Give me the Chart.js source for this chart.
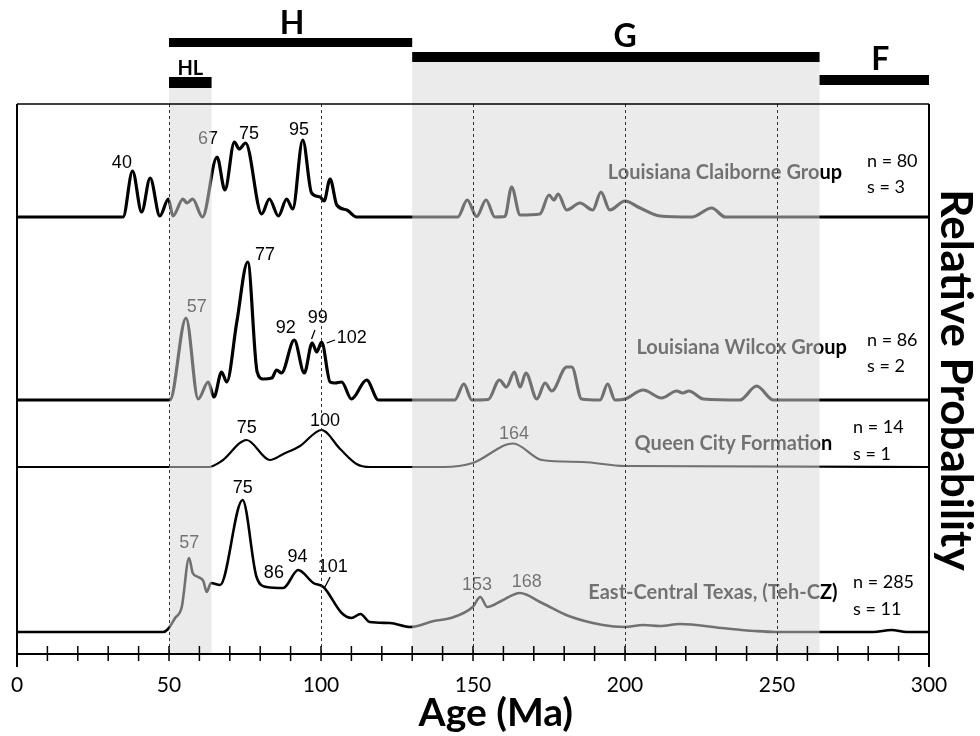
<!DOCTYPE html>
<html>
<head>
<meta charset="utf-8">
<script src="https://cdn.jsdelivr.net/npm/chart.js@4.4.0/dist/chart.umd.min.js"></script>
<style>
  html, body { margin: 0; padding: 0; background: #fff; }
  canvas { display: block; }
</style>
</head>
<body>
<canvas id="chart" width="980" height="736"></canvas>
<script>
// Probability curves: age (Ma) and relative height above each curve's baseline
const claiborneAge  = [0, 34.9, 38, 41, 43.8, 47, 49.8, 51.3, 54.6, 55.9, 57.8, 61, 65.8, 68.4, 71.5, 73.1, 75.2, 80.5, 83, 86, 88.7, 90.7, 94, 96.9, 99.7, 101, 103, 105.2, 108.5, 111.7, 145, 148.1, 151.2, 154.3, 157.2, 160.5, 162.7, 165.5, 172, 175, 176.6, 178, 180.8, 185.2, 189.4, 192.1, 195, 200, 205, 211.5, 222, 228.5, 233, 300];
const claiborneProb = [0, 0, 46, 5, 39, 1, 18, 1, 18, 14, 18, 0, 60, 27, 75, 68, 74, 3, 18, 1, 18, 8, 77, 24, 20, 16, 38, 12, 7, 0, 0, 17, 0.5, 17, 0, 0.5, 30, 2, 3, 22, 17, 23, 7, 14, 7, 25, 7, 16, 9, 1, 0, 9, 0, 0];

const wilcoxAge  = [0, 50.3, 55.6, 59.6, 62.9, 64.8, 67.3, 69, 72.3, 75.9, 79, 81, 83.8, 85.4, 87, 91.2, 94.5, 97.1, 98.6, 100.2, 103, 104.6, 106.8, 110, 115, 118.9, 144, 147, 149.6, 155, 158.7, 161, 163.6, 165.5, 167.4, 171, 173.7, 175.9, 180.8, 182.5, 185.7, 191.8, 194.3, 196.7, 200, 206, 212, 217, 219, 221, 225.8, 237.8, 243.3, 248.8, 300];
const wilcoxProb = [0, 0, 82, 1, 18, 3, 28, 18, 78, 138, 28, 21, 22, 30, 27, 60, 27, 57, 48, 58, 18, 17, 18, 1, 20, 0, 0, 16, 0, 0.5, 20, 13, 28, 13, 27, 1, 17, 9, 33, 33, 1, 0, 16, 0, 1, 10, 2, 9, 7, 9, 1, 0, 14, 0, 0];

const queenAge  = [0, 63, 67.3, 75.5, 83.2, 87.6, 93.1, 100.2, 106.3, 111.7, 116, 140.4, 149.9, 163.2, 172.7, 186, 199.9, 300];
const queenProb = [0, 0, 6, 27, 7, 13, 21, 37, 18, 3, 0, 0, 4, 23.5, 7, 5, 1, 0];

const texasAge  = [0, 48, 49.7, 52, 54.2, 56.6, 57.8, 59.6, 61.3, 62.4, 63.8, 66.8, 74.2, 78.8, 82.1, 87.6, 92.5, 97.5, 100.8, 106.8, 110, 113, 116, 122.7, 129.3, 137.1, 142.7, 149.9, 152.4, 154.7, 159.3, 165.4, 172.7, 181.5, 192.7, 199.9, 206, 211.5, 218.2, 231.6, 242.7, 249.3, 264.9, 281.6, 287.7, 292.7, 300];
const texasProb = [0, 0, 3, 14, 25, 74, 59, 55, 51, 40, 49, 47, 132, 55, 45, 44, 62, 49, 45, 19, 14, 18, 10, 9, 5, 11, 14, 25, 35, 25, 31, 39, 29, 16, 7, 5, 7, 6, 8, 4, 1, 0, 0, 0, 2, 0, 0];

// where each curve sits in the stack
const claiborneBase = 437, wilcoxBase = 254, queenBase = 187, texasBase = 22;

// peak ages written on the curves: text, age, height
const peakLabels = [
  ['40', 34.5, 491], ['67', 62.8, 515], ['75', 76.3, 520], ['95', 92.8, 524],
  ['57', 59.1, 347], ['77', 81.6, 399], ['92', 88.4, 326], ['99', 98.9, 336], ['102', 110.1, 316],
  ['75', 75.6, 226], ['100', 101.3, 233], ['164', 163.5, 220],
  ['57', 56.7, 111], ['75', 74.3, 166], ['86', 84.5, 81], ['94', 92.3, 97], ['101', 103.9, 87],
  ['153', 151.3, 69], ['168', 167.7, 72]
];
const leaderLines = [[96.9, 315, 98.0, 324], [101.9, 311, 104.6, 314], [101.3, 67, 103, 77]];

const groupNames = [
  ['Louisiana Claiborne Group', 271.4, 481],
  ['Louisiana Wilcox Group', 273, 306],
  ['Queen City Formation', 268.2, 210],
  ['East-Central Texas, (Teh-CZ)', 269.9, 61]
];
const sampleCounts = [
  ['n = 80', 279.6, 493], ['s = 3', 279.6, 467],
  ['n = 86', 279.6, 314], ['s = 2', 279.6, 288],
  ['n = 14', 275, 227], ['s = 1', 275, 200],
  ['n = 285', 275, 72], ['s = 11', 275, 45]
];

// age groups across the top: name, from, to
const ageGroups = [['H', 50, 130], ['HL', 50, 64], ['G', 130, 264], ['F', 264, 300]];
const shadedGroups = ['HL', 'G'];
const dashedAges = [50, 100, 150, 200, 250];

function toPoints(ages, probs, base) {
  return ages.map((a, i) => ({ x: a, y: probs[i] + base }));
}

function curve(label, ages, probs, base, width) {
  return {
    label: label,
    data: toPoints(ages, probs, base),
    borderColor: '#000',
    borderWidth: width,
    pointRadius: 0,
    fill: false,
    cubicInterpolationMode: 'monotone'
  };
}

// bar geometry for the age-group strip above the plot
const barStyle = {
  H:  { top: 38, h: 9,  font: 'bold 32px Lato', labelAge: 90.5, baseline: 34 },
  HL: { top: 77, h: 11, font: 'bold 20px Lato', labelAge: 57, baseline: 75 },
  G:  { top: 52, h: 10, font: 'bold 32px Lato', labelAge: 200, baseline: 47 },
  F:  { top: 75, h: 10, font: 'bold 32px Lato', labelAge: 284, baseline: 70 }
};

const decorations = {
  id: 'decorations',
  afterDatasetsDraw(chart) {
    const { ctx, chartArea: area, scales: { x, y } } = chart;
    ctx.save();

    // peak labels and group names go under the shading
    ctx.fillStyle = '#000';
    ctx.textAlign = 'center';
    ctx.textBaseline = 'middle';
    ctx.font = '18px "Liberation Sans", Arial, sans-serif';
    peakLabels.forEach(([t, a, v]) => ctx.fillText(t, x.getPixelForValue(a), y.getPixelForValue(v)));

    ctx.strokeStyle = '#000';
    ctx.lineWidth = 1.3;
    leaderLines.forEach(([a1, v1, a2, v2]) => {
      ctx.beginPath();
      ctx.moveTo(x.getPixelForValue(a1), y.getPixelForValue(v1));
      ctx.lineTo(x.getPixelForValue(a2), y.getPixelForValue(v2));
      ctx.stroke();
    });

    ctx.textAlign = 'right';
    ctx.font = 'bold 20px Lato';
    groupNames.forEach(([t, a, v]) => ctx.fillText(t, x.getPixelForValue(a), y.getPixelForValue(v)));

    // translucent shading over the HL and G ranges
    ctx.fillStyle = 'rgba(217,217,217,0.52)';
    ageGroups.forEach(([name, from, to]) => {
      if (!shadedGroups.includes(name)) return;
      const s = barStyle[name];
      const x1 = x.getPixelForValue(from), x2 = x.getPixelForValue(to);
      ctx.fillRect(x1, s.top, x2 - x1, area.bottom - s.top);
    });

    // dashed reference lines
    ctx.strokeStyle = '#333';
    ctx.lineWidth = 1;
    ctx.setLineDash([3, 3]);
    dashedAges.forEach(a => {
      const px = Math.round(x.getPixelForValue(a)) + 0.5;
      ctx.beginPath();
      ctx.moveTo(px, area.top);
      ctx.lineTo(px, area.bottom);
      ctx.stroke();
    });
    ctx.setLineDash([]);

    // frame
    ctx.strokeStyle = '#000';
    ctx.lineWidth = 1.5;
    ctx.beginPath();
    ctx.moveTo(area.left, area.top);
    ctx.lineTo(area.right, area.top);
    ctx.stroke();
    ctx.lineWidth = 2;
    ctx.beginPath();
    ctx.moveTo(area.left, area.top);
    ctx.lineTo(area.left, area.bottom + 13);
    ctx.moveTo(area.right, area.top);
    ctx.lineTo(area.right, area.bottom + 13);
    ctx.moveTo(area.left, area.bottom);
    ctx.lineTo(area.right, area.bottom);
    ctx.stroke();

    // tick marks every 10 Ma, crossing the axis
    ctx.lineWidth = 1.5;
    for (let a = 0; a <= 300; a += 10) {
      const px = x.getPixelForValue(a);
      ctx.beginPath();
      ctx.moveTo(px, area.bottom - 8);
      ctx.lineTo(px, area.bottom + 7);
      ctx.stroke();
    }

    // axis title, set a little right of centre as in the figure
    ctx.fillStyle = '#000';
    ctx.textAlign = 'center';
    ctx.textBaseline = 'middle';
    ctx.font = 'bold 39px Lato';
    ctx.fillText('Age (Ma)', x.getPixelForValue(157.5), 713);

    // age-group bars and letters
    ctx.textBaseline = 'alphabetic';
    ageGroups.forEach(([name, from, to]) => {
      const s = barStyle[name];
      const x1 = x.getPixelForValue(from), x2 = x.getPixelForValue(to);
      ctx.fillRect(x1, s.top, x2 - x1, s.h);
      ctx.font = s.font;
      ctx.fillText(name, x.getPixelForValue(s.labelAge), s.baseline);
    });

    // sample counts
    ctx.textAlign = 'left';
    ctx.textBaseline = 'middle';
    ctx.font = '18px Lato';
    sampleCounts.forEach(([t, a, v]) => ctx.fillText(t, x.getPixelForValue(a), y.getPixelForValue(v)));

    // right-hand axis title
    ctx.translate(955, 380);
    ctx.rotate(Math.PI / 2);
    ctx.textAlign = 'center';
    ctx.font = 'bold 44px Lato';
    ctx.fillText('Relative Probability', 0, 0);

    ctx.restore();
  }
};

const ctx = document.getElementById('chart').getContext('2d');
const chart = new Chart(ctx, {
  type: 'line',
  data: {
    datasets: [
      curve('Louisiana Claiborne Group', claiborneAge, claiborneProb, claiborneBase, 3.2),
      curve('Louisiana Wilcox Group', wilcoxAge, wilcoxProb, wilcoxBase, 3.2),
      curve('Queen City Formation', queenAge, queenProb, queenBase, 2.2),
      curve('East-Central Texas', texasAge, texasProb, texasBase, 2.6)
    ]
  },
  options: {
    responsive: false,
    animation: false,
    layout: { padding: { top: 104, left: 17, right: 51, bottom: 0 } },
    plugins: {
      legend: { display: false },
      tooltip: { enabled: false }
    },
    scales: {
      x: {
        type: 'linear',
        min: 0,
        max: 300,
        afterFit: s => { s.height = 82; s.paddingLeft = 0; s.paddingRight = 0; },
        grid: { display: false, drawTicks: false },
        border: { display: false },
        ticks: { stepSize: 50, padding: 19, color: '#000', font: { family: 'Lato', size: 21 } }
      },
      y: { display: false, min: 0, max: 550 }
    }
  },
  plugins: [decorations]
});
</script>
</body>
</html>
